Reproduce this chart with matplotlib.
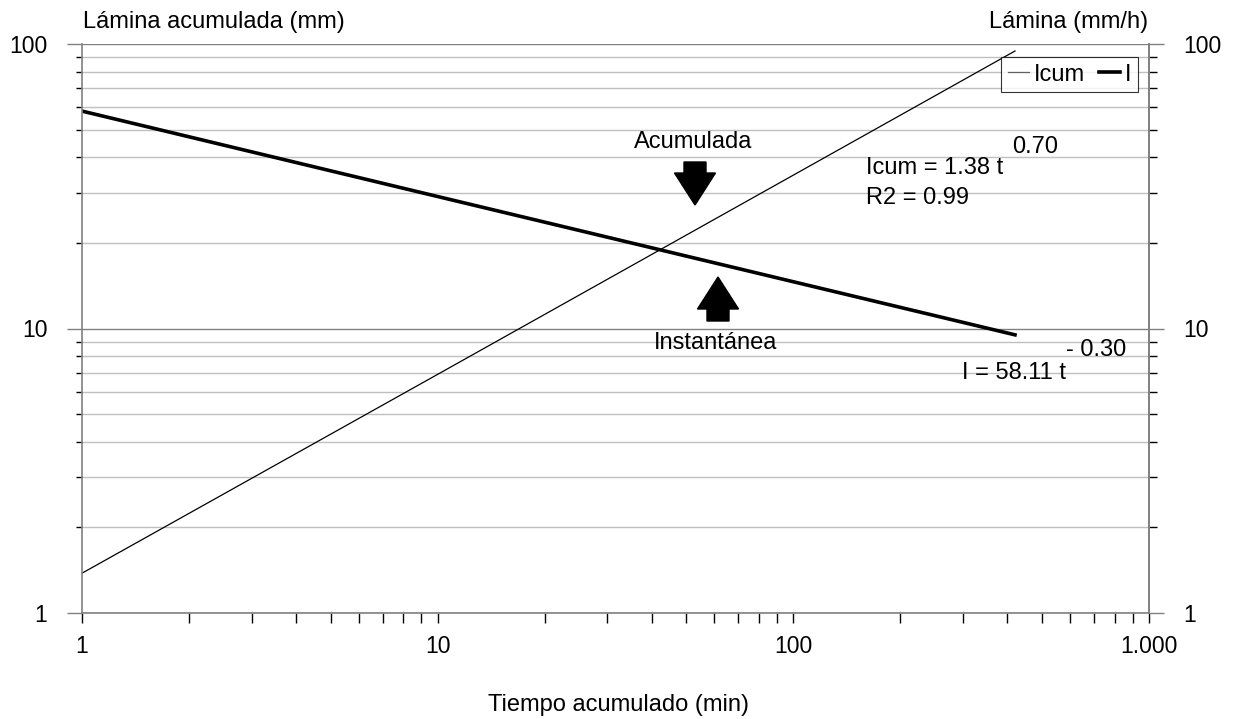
import matplotlib
matplotlib.use("Agg")
import matplotlib.pyplot as plt
from matplotlib.ticker import FixedLocator, FixedFormatter, LogLocator, NullFormatter
from matplotlib.patches import FancyArrow

# ---- data ----
t_min = [1, 10, 100, 420]
icum_mm = [1.38, 6.9, 34.6, 94.5]
i_mmh = [58.1, 29.1, 14.6, 9.5]
x_tick_vals = [1, 10, 100, 1000]
x_tick_labels = ["1", "10", "100", "1.000"]
y_tick_vals = [1, 10, 100]
y_tick_labels = ["1", "10", "100"]

plt.rcParams['font.family'] = ['Liberation Sans', 'DejaVu Sans']
FS = 17
TFS = 16.5

fig = plt.figure(figsize=(12.36, 7.19), dpi=100)
W, H = 1236, 719
L, R, T, B = 82, 1149, 44, 613
ax = fig.add_axes([L / W, 1 - B / H, (R - L) / W, (B - T) / H])

ax.set_xscale('log')
ax.set_yscale('log')
ax.set_xlim(1, 1000)
ax.set_ylim(1, 100)

ax.yaxis.set_minor_locator(LogLocator(base=10, subs=range(2, 10)))
ax.grid(True, axis='y', which='major', color='#808080', lw=1.0)
ax.grid(True, axis='y', which='minor', color='#c0c0c0', lw=1.0)
ax.grid(False, axis='x', which='both')
ax.set_axisbelow(True)

ax.spines['top'].set_visible(False)
for s in ['left', 'bottom', 'right']:
    ax.spines[s].set_color('#808080')
    ax.spines[s].set_linewidth(1.2)

ax.xaxis.set_major_locator(FixedLocator(x_tick_vals))
ax.xaxis.set_major_formatter(FixedFormatter(x_tick_labels))
ax.xaxis.set_minor_locator(LogLocator(base=10, subs=range(2, 10)))
ax.xaxis.set_minor_formatter(NullFormatter())
ax.yaxis.set_major_locator(FixedLocator(y_tick_vals))
ax.yaxis.set_major_formatter(FixedFormatter(y_tick_labels))
ax.yaxis.set_minor_formatter(NullFormatter())

ax.tick_params(axis='x', which='both', direction='out', length=7, width=1, color='black',
               labelsize=TFS, pad=9)
ax.tick_params(axis='y', which='major', direction='out', length=11, width=1, color='#808080',
               labelsize=TFS, pad=14)
ax.tick_params(axis='y', which='minor', direction='out', length=4.5, width=1, color='black')

ax2 = ax.twinx()
ax2.set_yscale('log')
ax2.set_ylim(1, 100)
ax2.yaxis.set_major_locator(FixedLocator(y_tick_vals))
ax2.yaxis.set_major_formatter(FixedFormatter(y_tick_labels))
ax2.yaxis.set_minor_locator(LogLocator(base=10, subs=range(2, 10)))
ax2.yaxis.set_minor_formatter(NullFormatter())
ax2.tick_params(axis='y', which='major', direction='out', length=11, width=1, color='#808080',
                labelsize=TFS, pad=14)
ax2.tick_params(axis='y', which='minor', direction='out', length=6, width=1, color='black')
for s in ['top', 'left', 'bottom']:
    ax2.spines[s].set_visible(False)
ax2.spines['right'].set_color('#808080')
ax2.spines['right'].set_linewidth(1.2)

l1, = ax.plot(t_min, icum_mm, color='black', lw=0.9, label='Icum')
l2, = ax.plot(t_min, i_mmh, color='black', lw=2.6, label='I')

leg = ax2.legend([l1, l2], ['Icum', 'I'], loc='upper right', bbox_to_anchor=(1138 / W, 1 - 57 / H),
                 bbox_transform=fig.transFigure, ncol=2, fontsize=FS, frameon=True,
                 fancybox=False, edgecolor='black', handlelength=0.9, handletextpad=0.2,
                 columnspacing=0.6, borderpad=0.28, borderaxespad=0)
leg.get_frame().set_linewidth(0.8)
leg.get_lines()[0].set_color('#606060')

fig.text(83 / W, 1 - 22 / H, 'Lámina acumulada (mm)', fontsize=FS, ha='left', va='center')
fig.text(1148 / W, 1 - 22 / H, 'Lámina (mm/h)', fontsize=FS, ha='right', va='center')
fig.text(618 / W, 1 - 705 / H, 'Tiempo acumulado (min)', fontsize=FS, ha='center', va='center')


def fx(px):
    return px / W


def fy(py):
    return 1 - py / H


fig.text(fx(693), fy(142), 'Acumulada', fontsize=FS, ha='center', va='center')
fig.text(fx(716), fy(343), 'Instantánea', fontsize=FS, ha='center', va='center')
fig.text(fx(866), fy(168), 'Icum = 1.38 t', fontsize=FS, ha='left', va='center')
fig.text(fx(1012), fy(147), '0.70', fontsize=FS, ha='left', va='center')
fig.text(fx(866), fy(198), 'R2 = 0.99', fontsize=FS, ha='left', va='center')
fig.text(fx(1066), fy(373), 'I = 58.11 t', fontsize=FS, ha='right', va='center')
fig.text(fx(1066), fy(350), '- 0.30', fontsize=FS, ha='left', va='center')

fig.patches.append(FancyArrow(fx(695), fy(162), 0, -(205 - 162) / H, width=22 / W,
                              head_width=41 / W, head_length=32 / H, length_includes_head=True,
                              color='black', transform=fig.transFigure, figure=fig))
fig.patches.append(FancyArrow(fx(718), fy(321), 0, (321 - 277) / H, width=22 / W,
                              head_width=41 / W, head_length=32 / H, length_includes_head=True,
                              color='black', transform=fig.transFigure, figure=fig))

fig.savefig('out.png', dpi=100)
